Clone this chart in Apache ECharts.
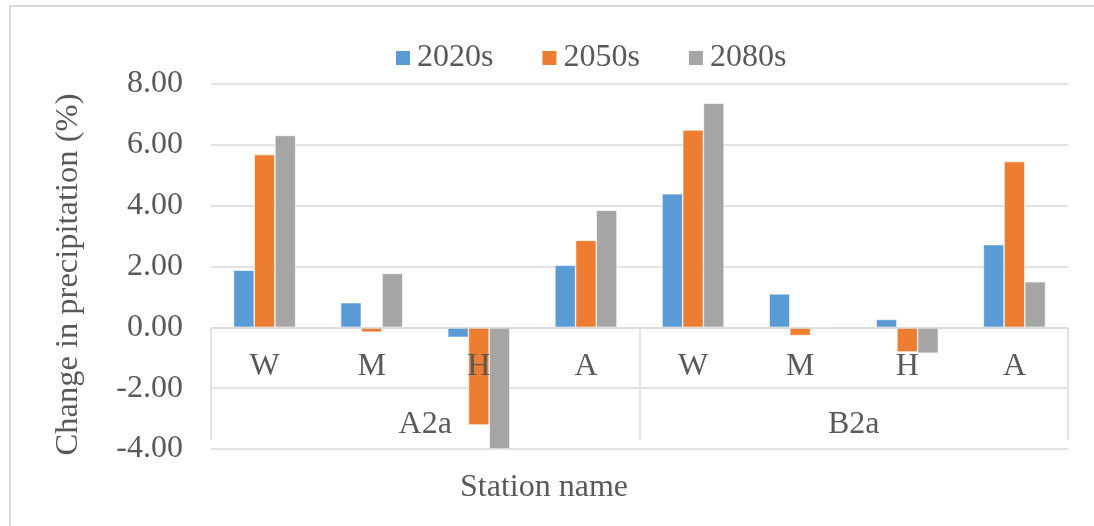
<!DOCTYPE html>
<html>
<head>
<meta charset="utf-8">
<script src="https://cdn.jsdelivr.net/npm/echarts@6/dist/echarts.min.js"></script>
<style>
  html, body { margin: 0; padding: 0; background: #fff; }
  #wrap { position: relative; width: 1094px; height: 526px; }
  #frame { position: absolute; left: 9px; top: 5px; right: -2px; bottom: -2px;
           border-left: 2px solid #d9d9d9; border-top: 2px solid #d9d9d9; pointer-events: none; }
  #chart { position: absolute; left: 0; top: 0; width: 1094px; height: 526px; }
</style>
</head>
<body>
<div id="wrap">
  <div id="chart"></div>
  <div id="frame"></div>
</div>
<script>
// Stations within each emission scenario
const stations = ['W', 'M', 'H', 'A', 'W', 'M', 'H', 'A'];
const scenarios = ['A2a', 'B2a'];
const periods = ['2020s', '2050s', '2080s'];

// Change in precipitation (%) per period
const change2020s = [1.88, 0.81, -0.33, 2.04, 4.39, 1.10, 0.26, 2.72];
const change2050s = [5.68, -0.16, -3.21, 2.86, 6.49, -0.27, -0.81, 5.45];
const change2080s = [6.31, 1.77, -4.00, 3.85, 7.37, 0.00, -0.85, 1.50];

const colors = ['#5B9BD5', '#ED7D31', '#A5A5A5'];
const font = '"Liberation Serif", "Times New Roman", serif';
const textColor = '#595959';
const lineColor = '#d9d9d9';
const fs = 32;

const chart = echarts.init(document.getElementById('chart'), null, { renderer: 'canvas' });

function barSeries(name, data) {
  return {
    name: name,
    type: 'bar',
    data: data,
    xAxisIndex: 0,
    barGap: '0%',
    barCategoryGap: '42%',
    itemStyle: { borderColor: '#ffffff', borderWidth: 0.6 }
  };
}

chart.setOption({
  animation: false,
  color: colors,
  textStyle: { fontFamily: font, color: textColor },
  title: {
    text: 'Station name',
    left: 460,
    top: 472,
    padding: 0,
    textStyle: { fontFamily: font, fontSize: fs, fontWeight: 'normal', color: textColor }
  },
  legend: {
    data: periods,
    top: 37,
    left: 389,
    itemWidth: 16,
    itemHeight: 16,
    itemGap: 47,
    icon: 'rect',
    textStyle: { fontFamily: font, fontSize: fs, color: textColor, padding: [0, 0, 0, 1] }
  },
  grid: { left: 211, right: 26, top: 84, bottom: 77, containLabel: false },
  xAxis: [
    {
      type: 'category',
      data: stations,
      position: 'bottom',
      z: 5,
      axisLine: { onZero: true, lineStyle: { color: lineColor, width: 1.5 } },
      axisTick: { show: false },
      axisLabel: { margin: -98, fontFamily: font, fontSize: fs, color: textColor, interval: 0 },
      splitLine: { show: false }
    },
    {
      type: 'category',
      data: scenarios,
      position: 'bottom',
      offset: -9,
      z: 5,
      axisLine: { show: false },
      axisTick: { show: true, inside: true, length: 112, lineStyle: { color: lineColor, width: 1.5 } },
      axisLabel: { inside: true, margin: -1, fontFamily: font, fontSize: fs, color: textColor },
      splitLine: { show: false }
    }
  ],
  yAxis: {
    type: 'value',
    min: -4,
    max: 8,
    interval: 2,
    name: 'Change in precipitation (%)',
    nameLocation: 'middle',
    nameGap: 126,
    nameTextStyle: { fontFamily: font, fontSize: 32.5, color: textColor, padding: [0, 16, 0, 0] },
    axisLine: { show: false },
    axisTick: { show: false },
    axisLabel: {
      margin: 28,
      fontFamily: font,
      fontSize: fs,
      color: textColor,
      formatter: v => v.toFixed(2)
    },
    splitLine: { lineStyle: { color: lineColor, width: 1.5 } }
  },
  series: [
    barSeries(periods[0], change2020s),
    barSeries(periods[1], change2050s),
    barSeries(periods[2], change2080s)
  ]
});
</script>
</body>
</html>
